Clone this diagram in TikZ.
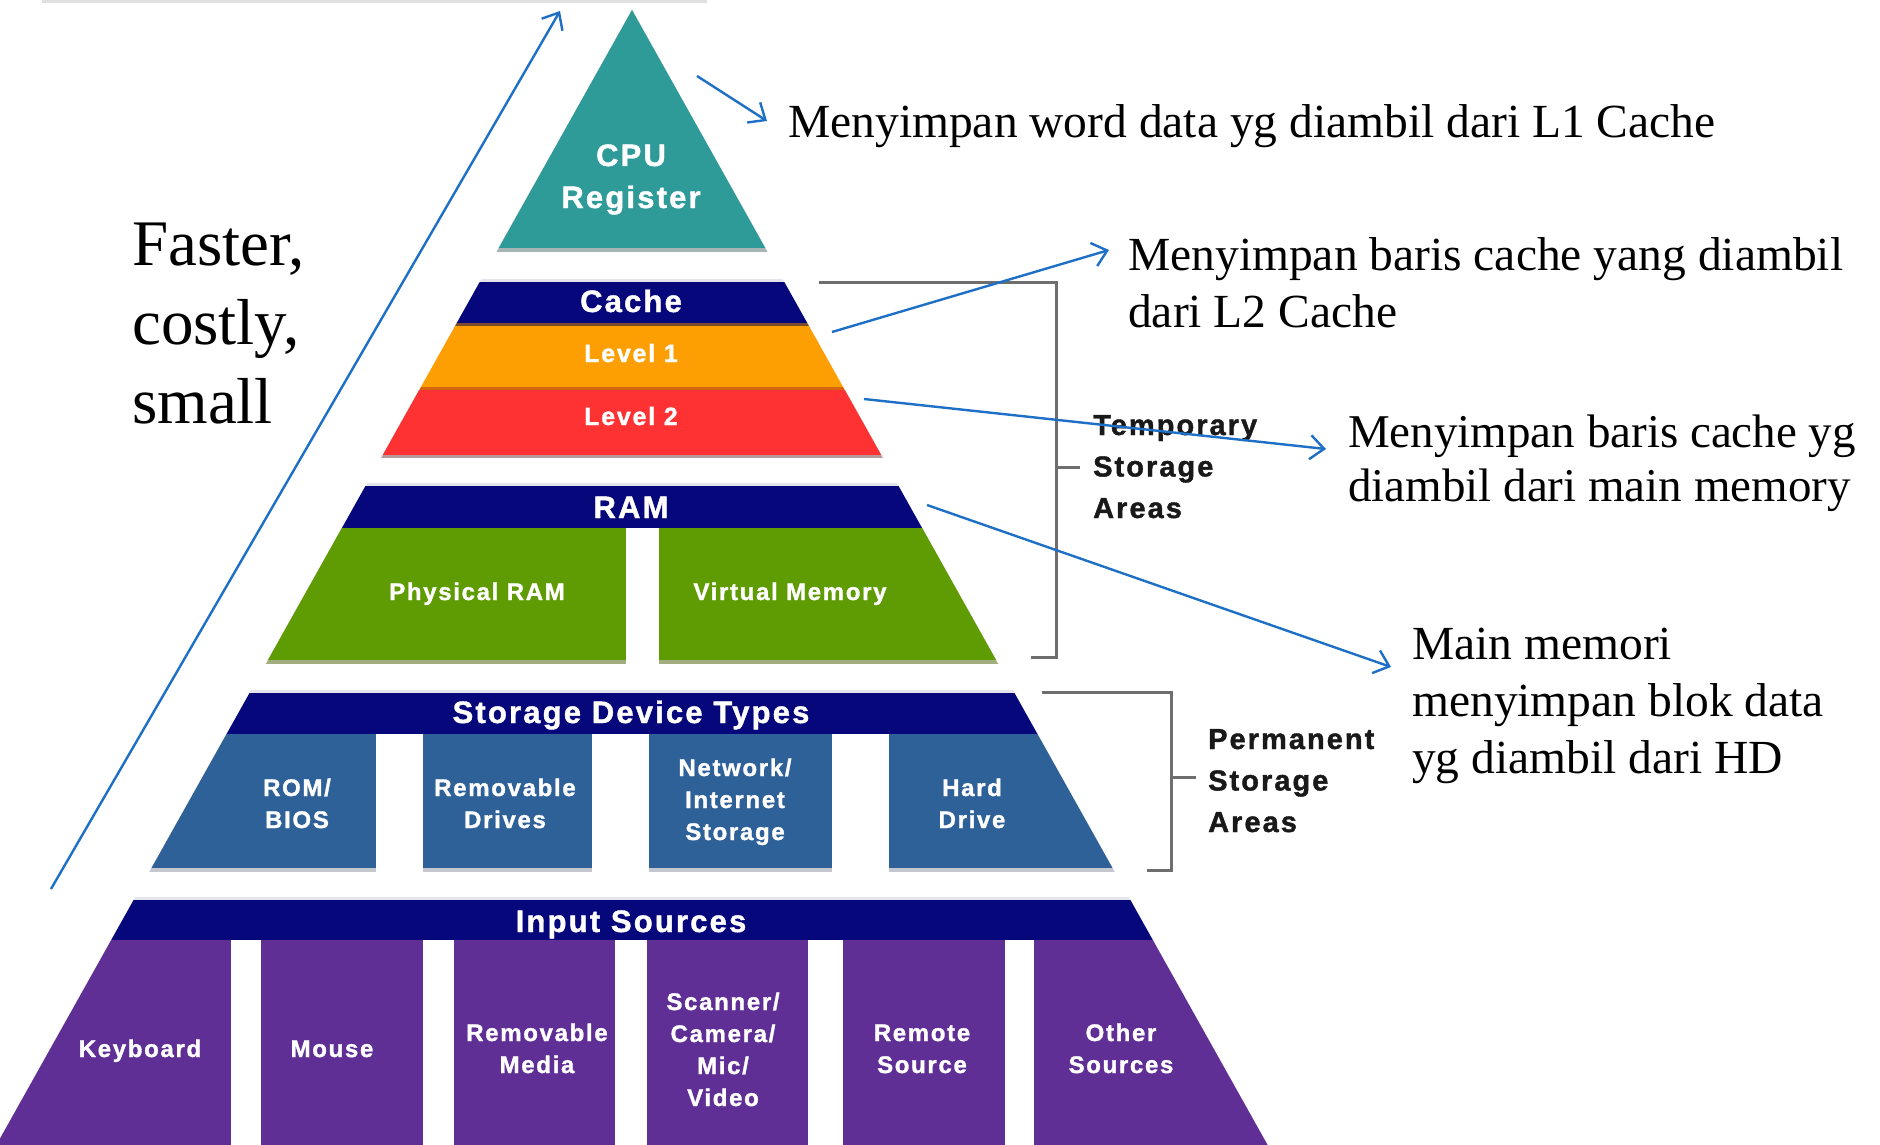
\documentclass[tikz,border=0pt]{standalone}
\usepackage{fontspec}
\setmainfont{Liberation Serif}
\newfontfamily\pyrfont[LetterSpace=7, BoldFeatures={FakeBold=1.3}]{Liberation Sans}
\usetikzlibrary{arrows.meta}

\definecolor{tealfill}{HTML}{2E9B99}
\definecolor{tealshadow}{HTML}{A6B4B4}
\definecolor{navyfill}{HTML}{07077C}
\definecolor{orangefill}{HTML}{FD9E03}
\definecolor{brownsep}{HTML}{7A4A2C}
\definecolor{orangesep}{HTML}{D5660F}
\definecolor{redfill}{HTML}{FE3133}
\definecolor{redshadow}{HTML}{B89A9A}
\definecolor{greenfill}{HTML}{5F9B02}
\definecolor{greenshadow}{HTML}{A2AE80}
\definecolor{bluefill}{HTML}{2F6199}
\definecolor{blueshadow}{HTML}{C4C8CE}
\definecolor{purplefill}{HTML}{5F2F95}
\definecolor{rimgray}{HTML}{E4E4EC}
\definecolor{arrowblue}{HTML}{1E6FC6}
\definecolor{bracketgray}{HTML}{6E6E6E}

% multi-line nodes are placed by the baseline of their last line
\tikzset{
  bandtxt/.style={font=\pyrfont\bfseries\fontsize{31}{31}\selectfont, text=white, anchor=base, inner sep=0pt},
  lvltxt/.style={font=\pyrfont\bfseries\fontsize{25}{25}\selectfont, text=white, anchor=base, inner sep=0pt},
  boxtxt/.style={font=\pyrfont\bfseries\fontsize{24}{32}\selectfont, text=white, anchor=base, align=center, inner sep=0pt},
  sidetxt/.style={font=\pyrfont\bfseries\fontsize{29}{41.5}\selectfont, text=black!90, anchor=base west, align=left, inner sep=0pt},
  note/.style={font=\fontsize{47.5}{57}\selectfont, anchor=base west, align=left, inner sep=0pt},
  pointer/.style={draw=arrowblue, line width=2.4pt, -{Straight Barb[length=14pt,width=24pt]}},
  bracket/.style={draw=bracketgray, line width=3pt},
}

\begin{document}
\begin{tikzpicture}[x=1pt, y=-1pt]
\useasboundingbox (0,0) rectangle (1880,1145);
\fill[white] (0,0) rectangle (1880,1145);

% faint rule along the top edge
\fill[black!12] (42,0) rectangle (707,3);

% the pyramid: every layer is cut by the two slanted sides
\begin{scope}
  \clip (632,10) -- (-4.2,1146) -- (1268.2,1146) -- cycle;
  % CPU register
  \fill[tealshadow] (0,0) rectangle (1300,252);
  \fill[tealfill] (0,0) rectangle (1300,248);
  % cache
  \fill[rimgray] (0,279) rectangle (1300,282);
  \fill[navyfill] (0,282) rectangle (1300,323);
  \fill[brownsep] (0,323) rectangle (1300,326);
  \fill[orangefill] (0,326) rectangle (1300,387);
  \fill[orangesep] (0,387) rectangle (1300,390);
  \fill[redshadow] (0,390) rectangle (1300,458);
  \fill[redfill] (0,390) rectangle (1300,455);
  % RAM
  \fill[rimgray] (0,483) rectangle (1300,486);
  \fill[navyfill] (0,486) rectangle (1300,528);
  \fill[greenshadow] (0,528) rectangle (626,664);
  \fill[greenshadow] (659,528) rectangle (1300,664);
  \fill[greenfill] (0,528) rectangle (626,660);
  \fill[greenfill] (659,528) rectangle (1300,660);
  % storage devices
  \fill[rimgray] (0,690) rectangle (1300,693);
  \fill[navyfill] (0,693) rectangle (1300,734);
  \foreach \xa/\xb in {0/376, 423/592, 649/832, 889/1300} {
    \fill[blueshadow] (\xa,734) rectangle (\xb,872);
    \fill[bluefill] (\xa,734) rectangle (\xb,868);
  }
  % input sources
  \fill[rimgray] (0,897) rectangle (1300,900);
  \fill[navyfill] (0,900) rectangle (1300,940);
  \foreach \xa/\xb in {0/231, 261/423, 454/615, 647/808, 843/1005, 1034/1300} {
    \fill[purplefill] (\xa,940) rectangle (\xb,1146);
  }
\end{scope}

% labels inside the pyramid
\node[bandtxt] (cpu) at (631,166) {CPU};
\node[bandtxt] (reg) at (631,208) {Register};
\node[bandtxt] (cache) at (631,312) {Cache};
\node[lvltxt] (lone) at (631,362) {Level 1};
\node[lvltxt] (ltwo) at (631,425) {Level 2};
\node[bandtxt] (ram) at (631,518) {RAM};
\node[boxtxt] (phys) at (477,600) {Physical RAM};
\node[boxtxt] (virt) at (790,600) {Virtual Memory};
\node[bandtxt] (sdt) at (631,723) {Storage Device Types};
\node[boxtxt] (rom) at (297,828) {ROM/\\BIOS};
\node[boxtxt] (remd) at (505,828) {Removable\\Drives};
\node[boxtxt] (net) at (735,840) {Network/\\Internet\\Storage};
\node[boxtxt] (hd) at (972,828) {Hard\\Drive};
\node[bandtxt] (inp) at (631,932) {Input Sources};
\node[boxtxt] (kb) at (140,1057) {Keyboard};
\node[boxtxt] (mouse) at (332,1057) {Mouse};
\node[boxtxt] (remm) at (537,1073) {Removable\\Media};
\node[boxtxt] (scan) at (723,1106) {Scanner/\\Camera/\\Mic/\\Video};
\node[boxtxt] (remote) at (922,1073) {Remote\\Source};
\node[boxtxt] (other) at (1121,1073) {Other\\Sources};

% storage area brackets
\draw[bracket] (819,282) -| (1056,657) -- (1031,657);
\draw[bracket] (1056,467) -- (1080,467);
\draw[bracket] (1042,692) -| (1171,870) -- (1147,870);
\draw[bracket] (1171,777) -- (1196,777);
\node[sidetxt] (tsa) at (1093,518) {Temporary\\Storage\\Areas};
\node[sidetxt] (psa) at (1208,832) {Permanent\\Storage\\Areas};

% notes
\node[font=\fontsize{65}{79}\selectfont, anchor=base west, align=left, inner sep=0pt] (fcs) at (132,423) {Faster,\\costly,\\small};
\node[note] (tone) at (788,138) {Menyimpan word data yg diambil dari L1 Cache};
\node[note] (ttwo) at (1128,327) {Menyimpan baris cache yang diambil\\dari L2 Cache};
\node[note, font=\fontsize{47}{54}\selectfont] (tthree) at (1348,501) {Menyimpan baris cache yg\\diambil dari main memory};
\node[note] (tfour) at (1412,773) {Main memori\\menyimpan blok data\\yg diambil dari HD};

% pointers
\coordinate (upS) at (51,889);
\coordinate (upE) at (560,11);
\coordinate (pcpu) at (697,76);
\coordinate (pcpuE) at (767,121);
\coordinate (pl1) at (832,332);
\coordinate (pl1E) at (1109,250);
\coordinate (pl2) at (864,399);
\coordinate (pl2E) at (1326,449);
\coordinate (pram) at (927,505);
\coordinate (pramE) at (1391,667);
\draw[pointer] (upS) -- (upE);
\draw[pointer] (pcpu) -- (pcpuE);
\draw[pointer] (pl1) -- (pl1E);
\draw[pointer] (pl2) -- (pl2E);
\draw[pointer] (pram) -- (pramE);
\end{tikzpicture}
\end{document}
